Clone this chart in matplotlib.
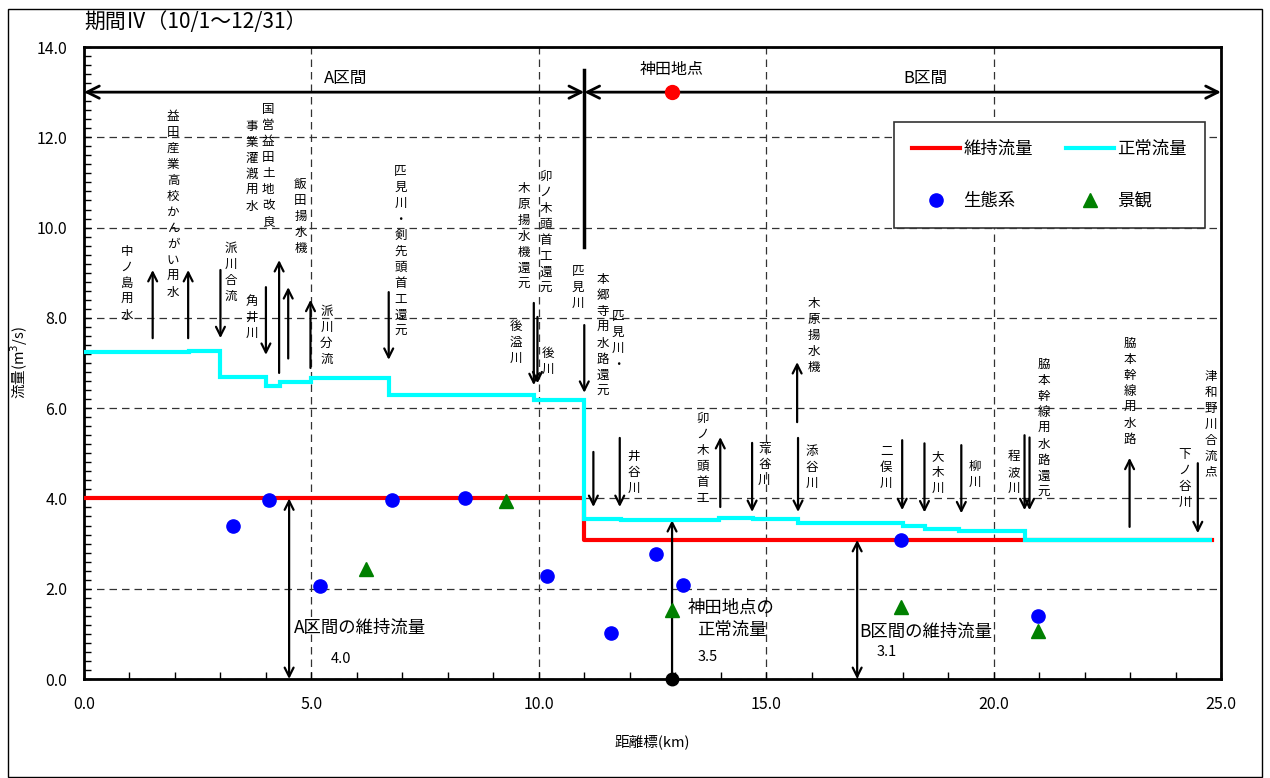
import numpy as np
import matplotlib
matplotlib.use("Agg")
from matplotlib import pyplot as plt
from matplotlib.patches import Rectangle

plt.rcParams['font.family'] = ['Noto Sans CJK JP', 'DejaVu Sans']

# --- data -------------------------------------------------------------
# maintenance flow (維持流量), step line
ijiryu_x = [0.0, 11.0, 11.0, 24.8]
ijiryu_y = [4.0, 4.0, 3.08, 3.08]

# normal flow (正常流量), step edges and levels
seijo_edges = [0.0, 2.3, 3.0, 4.0, 4.3, 5.0, 6.7, 9.9, 11.0, 11.8, 13.96, 14.7,
               15.7, 18.0, 18.5, 19.25, 20.7, 24.8]
seijo_levels = [7.24, 7.27, 6.68, 6.49, 6.58, 6.66, 6.29, 6.19, 3.55, 3.52, 3.56,
                3.55, 3.46, 3.39, 3.32, 3.28, 3.08]

# ecosystem (生態系) points
eco_x = [3.28, 4.07, 5.18, 6.78, 8.37, 10.18, 11.59, 12.58, 13.17, 17.97, 20.97]
eco_y = [3.39, 3.97, 2.06, 3.97, 4.01, 2.28, 1.02, 2.77, 2.08, 3.08, 1.40]

# landscape (景観) points
land_x = [6.19, 9.27, 12.93, 17.97, 20.97]
land_y = [2.44, 3.94, 1.53, 1.60, 1.06]

kanda_x = 12.93
kanda_flow = 3.52

# inflow / outflow arrows: x, start y, end y
arrow_x = [1.51, 2.29, 3.0, 4.0, 4.29, 4.49, 4.98, 6.7, 9.89, 9.97, 11.0, 11.2,
           11.78, 13.99, 14.69, 15.68, 15.7, 17.99, 18.48, 19.29, 20.68, 20.79,
           22.99, 24.49]
arrow_from = [7.55, 7.55, 9.06, 8.68, 6.78, 7.1, 6.89, 8.57, 8.33, 8.02, 7.84, 5.03,
              5.34, 3.81, 5.23, 5.69, 5.34, 5.29, 5.22, 5.18, 5.4, 5.35, 3.37, 4.78]
arrow_to = [9.06, 9.06, 7.55, 7.18, 9.28, 8.68, 8.4, 7.07, 6.51, 6.55, 6.34, 3.81,
            3.81, 5.36, 3.7, 7.02, 3.7, 3.74, 3.69, 3.67, 3.74, 3.74, 4.9, 3.23]

# vertical labels: x, top y, text
label_x = [0.94, 1.96, 3.23, 3.69, 4.05, 3.69, 4.76, 5.33, 6.96, 10.15, 9.67, 9.5,
           10.2, 10.86, 11.4, 11.74, 12.09, 13.6, 14.96, 16.05, 16.0, 17.64, 18.78,
           19.58, 20.44, 21.1, 23.0, 24.2, 24.78]
label_top = [9.61, 12.6, 9.68, 8.51, 12.76, 12.38, 11.1, 8.29, 11.39, 11.28, 11.01,
             7.95, 7.35, 9.17, 8.99, 8.17, 5.07, 5.91, 5.25, 8.46, 5.18, 5.18, 5.07,
             4.85, 5.07, 7.11, 7.58, 5.12, 6.85]
label_text = ['中ノ島用水', '益田産業高校かんがい用水', '派川合流', '角井川',
              '国営益田土地改良', '事業灌漑用水', '飯田揚水機', '派川分流',
              '匹見川・剣先頭首工還元', '卯ノ木頭首工還元', '木原揚水機還元', '後溢川',
              '後川', '匹見川', '本郷寺用水路還元', '匹見川・', '井谷川', '卯ノ木頭首工',
              '荒谷川', '木原揚水機', '添谷川', '二俣川', '大木川', '柳川', '程波川',
              '脇本幹線用水路還元', '脇本幹線用水路', '下ノ谷川', '津和野川合流点']

# --- figure -----------------------------------------------------------
fig = plt.figure(figsize=(12.7, 7.78), dpi=100)
ax = fig.add_axes([84 / 1270, 99 / 778, 1137 / 1270, 632 / 778])
fig.patches.append(Rectangle((8 / 1270, 0.001), 1254 / 1270, 0.988,
                             transform=fig.transFigure, fill=False,
                             edgecolor='black', lw=1.0))

ax.set_xlim(0, 25)
ax.set_ylim(0, 14)
ax.set_xticks(np.arange(0, 25.1, 5))
ax.set_yticks(np.arange(0, 14.1, 2))
ax.set_xticks(np.arange(0, 25.1, 1), minor=True)
ax.set_yticks(np.arange(0, 14.1, 0.2), minor=True)
ax.set_xticklabels([f"{v:.1f}" for v in np.arange(0, 25.1, 5)])
ax.set_yticklabels([f"{v:.1f}" for v in np.arange(0, 14.1, 2)])
ax.tick_params(which='both', direction='in', labelsize=11.5, width=1)
ax.tick_params(which='major', length=5)
ax.tick_params(which='minor', length=5)
ax.tick_params(axis='y', pad=12)
ax.tick_params(axis='x', pad=12)
for s in ax.spines.values():
    s.set_linewidth(2)
ax.grid(True, which='major', color='#333333', lw=0.9, ls=(0, (6, 4)))

ax.set_xlabel('距離標(km)', fontsize=10.5)
ax.set_ylabel('流量(m$^3$/s)', fontsize=10.5)
ax.xaxis.set_label_coords(0.5, -(734 - 679) / 632)
ax.yaxis.set_label_coords(-(84 - 30) / 1137, 0.5)
fig.text(84 / 1270, 1 - 22 / 778, '期間Ⅳ（10/1～12/31）', fontsize=15,
         ha='left', va='center')

# flow lines
ax.plot(ijiryu_x, ijiryu_y, color='red', lw=3, zorder=3, label='維持流量')
ax.stairs(seijo_levels, seijo_edges, color='cyan', lw=3, baseline=None,
          zorder=4, label='正常流量')

# points
eco = ax.plot(eco_x, eco_y, 'o', color='blue', ms=9.5, zorder=6, label='生態系',
              ls='none')[0]
land = ax.plot(land_x, land_y, '^', color='green', ms=9.5, zorder=6, label='景観',
               ls='none')[0]

# section arrows along the top
arr = dict(arrowstyle='<->', lw=2, color='black', mutation_scale=22,
           shrinkA=0, shrinkB=0)
ax.annotate('', xy=(0, 13), xytext=(11, 13), arrowprops=arr, annotation_clip=False)
ax.annotate('', xy=(11, 13), xytext=(25, 13), arrowprops=arr, annotation_clip=False)
ax.plot([11, 11], [9.57, 13.5], color='black', lw=2.5, zorder=5)
ax.plot([kanda_x], [13], 'o', color='red', ms=10, zorder=6)
ax.text(5.75, 13.3, 'A区間', fontsize=12, ha='center', va='center')
ax.text(18.5, 13.3, 'B区間', fontsize=12, ha='center', va='center')
ax.text(kanda_x, 13.5, '神田地点', fontsize=11.5, ha='center', va='center')

# inflow / outflow arrows
for x, y0, y1 in zip(arrow_x, arrow_from, arrow_to):
    ax.annotate('', xy=(x, y1), xytext=(x, y0),
                arrowprops=dict(arrowstyle='->', lw=1.6, color='black',
                                mutation_scale=16, shrinkA=0, shrinkB=0),
                zorder=5)

for x, y, t in zip(label_x, label_top, label_text):
    ax.text(x, y, '\n'.join(t), fontsize=9, ha='center', va='top',
            linespacing=1.3, zorder=5)

# bottom annotations
dbl = dict(arrowstyle='<->', lw=1.6, color='black', mutation_scale=16,
           shrinkA=0, shrinkB=0)
ax.annotate('', xy=(4.51, 0), xytext=(4.51, 4.0), arrowprops=dbl)
ax.annotate('', xy=(17.0, 0), xytext=(17.0, 3.08), arrowprops=dbl)
ax.annotate('', xy=(kanda_x, kanda_flow), xytext=(kanda_x, 0),
            arrowprops=dict(arrowstyle='->', lw=1.6, color='black',
                            mutation_scale=16, shrinkA=0, shrinkB=0))
ax.plot([kanda_x], [0], 'o', color='black', ms=9, zorder=7, clip_on=False)

ax.text(4.61, 1.13, 'A区間の維持流量', fontsize=12.5, ha='left', va='center')
ax.text(5.64, 0.45, '4.0', fontsize=10.5, ha='center', va='center')
ax.text(13.27, 1.57, '神田地点の', fontsize=12.5, ha='left', va='center')
ax.text(14.25, 1.09, '正常流量', fontsize=12.5, ha='center', va='center')
ax.text(13.71, 0.49, '3.5', fontsize=10.5, ha='center', va='center')
ax.text(17.05, 1.05, 'B区間の維持流量', fontsize=12.5, ha='left', va='center')
ax.text(17.64, 0.6, '3.1', fontsize=10.5, ha='center', va='center')

# legend
h, l = ax.get_legend_handles_labels()
order = [0, 2, 1, 3]
leg = ax.legend([h[i] for i in order], [l[i] for i in order], ncol=2,
                loc='upper left', bbox_to_anchor=(894 / 1270, 1 - 122 / 778),
                bbox_transform=fig.transFigure, borderaxespad=0,
                fontsize=12.5, handlelength=2.75, handletextpad=0.2,
                columnspacing=1.9, labelspacing=1.95, borderpad=1.05,
                fancybox=False, framealpha=1, edgecolor='#333333')
leg.get_frame().set_linewidth(1.2)
leg.set_zorder(8)

fig.savefig('out.png', dpi=100)
